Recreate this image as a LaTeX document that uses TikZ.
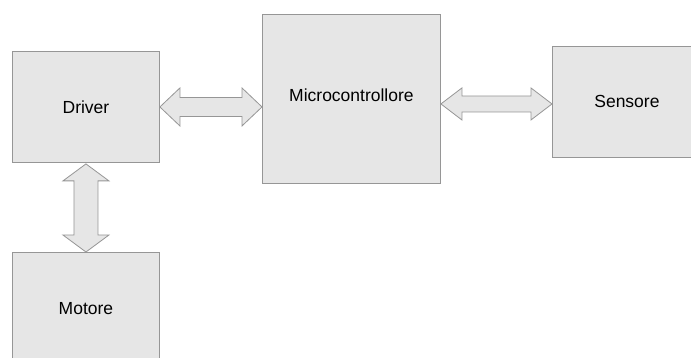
\documentclass[tikz,border=0pt]{standalone}
\usepackage{fontspec}
\setmainfont{Liberation Sans}
\usetikzlibrary{calc}
\definecolor{boxfill}{HTML}{E6E6E6}
\definecolor{boxline}{HTML}{969696}
\tikzset{
  blk/.style={draw=boxline, fill=boxfill, line width=0.9pt, inner sep=0pt,
    font=\fontsize{17.5}{20}\selectfont, text=black},
  fat/.style={draw=boxline, fill=boxfill, line width=0.8pt, line join=miter}
}
\newcommand{\hdbl}[5]{% A, B, head length, head half, shaft half
  \draw[fat] (#1) -- ($(#1)+(#3,#4)$) -- ($(#1)+(#3,#5)$) -- ($(#2)+(-#3,#5)$) -- ($(#2)+(-#3,#4)$) -- (#2)
    -- ($(#2)+(-#3,-#4)$) -- ($(#2)+(-#3,-#5)$) -- ($(#1)+(#3,-#5)$) -- ($(#1)+(#3,-#4)$) -- cycle;}
\newcommand{\vdbl}[5]{%
  \draw[fat] (#1) -- ($(#1)+(#4,#3)$) -- ($(#1)+(#5,#3)$) -- ($(#2)+(#5,-#3)$) -- ($(#2)+(#4,-#3)$) -- (#2)
    -- ($(#2)+(-#4,-#3)$) -- ($(#2)+(-#5,-#3)$) -- ($(#1)+(-#5,#3)$) -- ($(#1)+(-#4,#3)$) -- cycle;}
\begin{document}
\begin{tikzpicture}[x=1pt,y=-1pt]
\useasboundingbox (0,0) rectangle (691,358);
\node[blk, minimum width=147pt, minimum height=111pt, anchor=north west] (drv) at (12,51) {Driver};
\node[blk, minimum width=147pt, minimum height=112pt, anchor=north west] (mot) at (12,252) {\raisebox{0pt}{Motore}};
\node[blk, minimum width=178pt, minimum height=169pt, anchor=north west, text depth=7pt] (mc) at (262,14) {Microcontrollore};
\node[blk, minimum width=149pt, minimum height=111pt, anchor=north west] (sen) at (552,46) {Sensore};
\coordinate (a1) at (drv.east);
\coordinate (a2) at (mc.west |- drv.east);
\coordinate (b1) at ($(mc.east |- sen.west)+(0,2)$);
\coordinate (b2) at ($(sen.west)+(0,2)$);
\coordinate (c1) at ($(drv.south)+(0,1)$);
\coordinate (c2) at (mot.north);
\hdbl{a1}{a2}{20}{19}{9.5}
\hdbl{b1}{b2}{21}{16}{8}
\vdbl{c1}{c2}{17}{23}{12}
\end{tikzpicture}
\end{document}
